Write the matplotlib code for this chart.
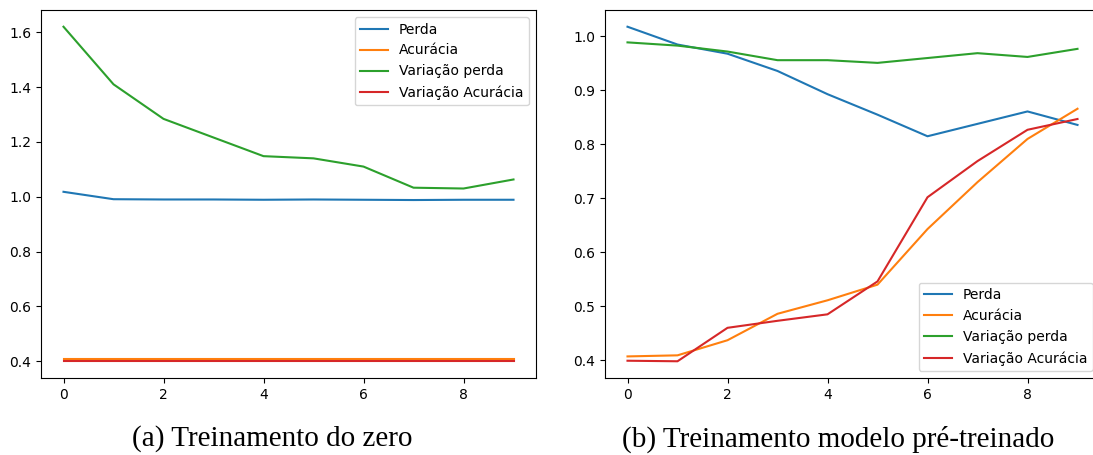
import matplotlib.pyplot as plt

epocas = list(range(10))
rotulos = ['Perda', 'Acurácia', 'Variação perda', 'Variação Acurácia']

# (a) treinamento do zero
perda_a = [1.018, 0.991, 0.990, 0.990, 0.989, 0.990, 0.989, 0.988, 0.989, 0.989]
acc_a = [0.410, 0.410, 0.410, 0.410, 0.410, 0.410, 0.410, 0.410, 0.410, 0.410]
val_perda_a = [1.620, 1.410, 1.284, 1.216, 1.148, 1.140, 1.110, 1.033, 1.030, 1.063]
val_acc_a = [0.400, 0.400, 0.400, 0.400, 0.400, 0.400, 0.400, 0.400, 0.400, 0.400]

# (b) modelo pre-treinado
perda_b = [1.018, 0.985, 0.968, 0.936, 0.893, 0.855, 0.815, 0.838, 0.861, 0.836]
acc_b = [0.407, 0.409, 0.437, 0.486, 0.511, 0.540, 0.643, 0.730, 0.810, 0.866]
val_perda_b = [0.989, 0.983, 0.972, 0.956, 0.956, 0.951, 0.960, 0.969, 0.962, 0.977]
val_acc_b = [0.399, 0.398, 0.460, 0.473, 0.485, 0.546, 0.702, 0.769, 0.827, 0.847]

legendas = ['(a) Treinamento do zero', '(b) Treinamento modelo pré-treinado']

fig = plt.figure(figsize=(10.93, 4.55), dpi=100)
ax1 = fig.add_axes([41 / 1093, 1 - 378 / 455, 495 / 1093, 368 / 455])
ax2 = fig.add_axes([605 / 1093, 1 - 378 / 455, 495 / 1093, 368 / 455])

for s in [perda_a, acc_a, val_perda_a, val_acc_a]:
    ax1.plot(epocas, s)
ax1.legend(rotulos, loc='upper right')

for s in [perda_b, acc_b, val_perda_b, val_acc_b]:
    ax2.plot(epocas, s)
ax2.legend(rotulos, loc='lower right')

fig.text(272 / 1093, 1 - 439 / 455, legendas[0], family='Liberation Serif',
         fontsize=21, ha='center', va='center')
fig.text(838 / 1093, 1 - 439 / 455, legendas[1], family='Liberation Serif',
         fontsize=21, ha='center', va='center')

fig.savefig('out.png', dpi=100)
